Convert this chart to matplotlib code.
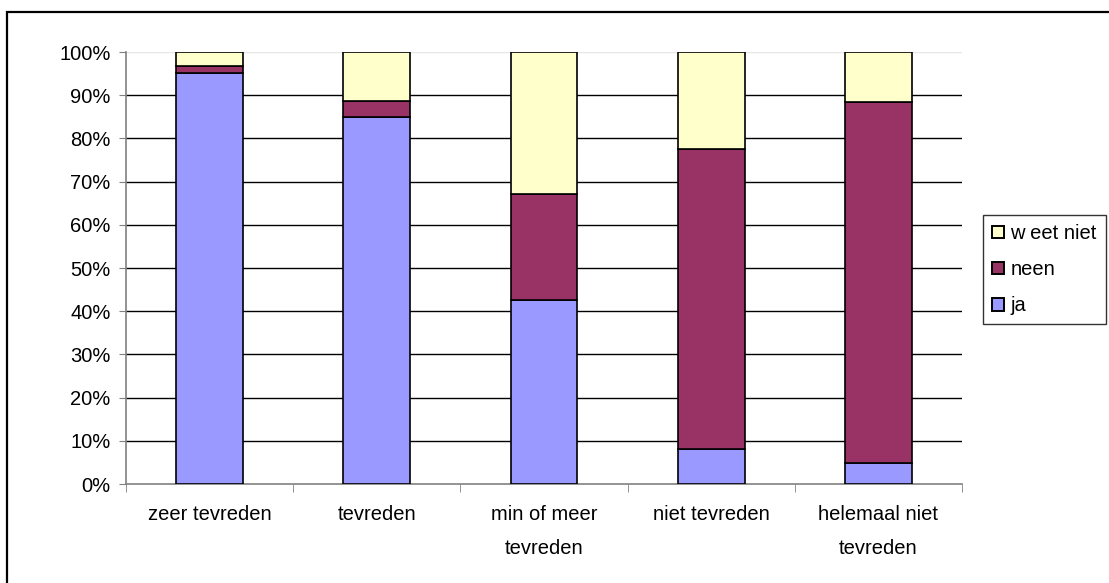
import matplotlib
matplotlib.use("Agg")
import matplotlib.pyplot as plt
from matplotlib.patches import Rectangle, Patch
from matplotlib.ticker import FixedLocator, PercentFormatter
import numpy as np

plt.rcParams['font.family'] = ['Liberation Sans', 'DejaVu Sans']

categories = ["zeer tevreden", "tevreden", "min of meer\ntevreden",
              "niet tevreden", "helemaal niet\ntevreden"]
ja = [95.2, 85.0, 42.6, 8.2, 4.9]
neen = [1.5, 3.7, 24.5, 69.3, 83.5]
weet_niet = [3.3, 11.3, 32.9, 22.5, 11.6]
series_labels = ["ja", "neen", "w eet niet"]
colors = ["#9999FF", "#993366", "#FFFFCC"]

FS = 14.5
W, H = 1109, 583
fig = plt.figure(figsize=(W / 100, H / 100), dpi=100)
ax = fig.add_axes([126 / W, 1 - 484 / H, (962 - 126) / W, (484 - 52) / H])

# outer chart border
fig.patches.append(Rectangle((7 / W, -0.05), 1.2, 1 - 12 / H + 0.05,
                             transform=fig.transFigure, fill=False,
                             edgecolor="black", linewidth=1.6))

x = np.arange(len(categories))
bottom = np.zeros(len(categories))
handles = []
for vals, lab, col in zip([ja, neen, weet_niet], series_labels, colors):
    ax.bar(x, vals, width=0.4, bottom=bottom, color=col,
           edgecolor="black", linewidth=1.2, zorder=3)
    bottom += np.array(vals)
    handles.append(Patch(facecolor=col, edgecolor="black", linewidth=1.4, label=lab))

ax.set_xlim(-0.5, len(categories) - 0.5)
ax.set_ylim(0, 100)
ax.set_yticks(np.arange(0, 101, 10))
ax.yaxis.set_major_formatter(PercentFormatter(decimals=0))
for yv in range(10, 100, 10):
    ax.axhline(yv, color="black", linewidth=1.0, zorder=1)
ax.axhline(100, color="#e6e6e6", linewidth=1.0, zorder=1)

for s in ["top", "right"]:
    ax.spines[s].set_visible(False)
for s in ["left", "bottom"]:
    ax.spines[s].set_color("#808080")
    ax.spines[s].set_linewidth(1.2)

ax.tick_params(axis="y", direction="out", length=5, color="#808080",
               labelsize=FS, pad=6)
ax.set_xticks(x)
ax.set_xticklabels(categories, fontsize=FS, linespacing=2.0)
ax.tick_params(axis="x", length=0, pad=15)
ax.xaxis.set_minor_locator(FixedLocator(np.arange(-0.5, len(categories), 1.0)))
ax.tick_params(axis="x", which="minor", direction="out", length=6,
               color="#808080")

leg = fig.legend(handles=handles[::-1], loc="upper left",
                 bbox_to_anchor=(983 / W, 1 - 215 / H), frameon=True,
                 fancybox=False, edgecolor="black", fontsize=FS,
                 handlelength=0.6, handleheight=0.6, handletextpad=0.3,
                 labelspacing=0.85, borderpad=0.45, borderaxespad=0)
leg.get_frame().set_linewidth(1.0)

fig.savefig("out.png", dpi=100, facecolor="white")
